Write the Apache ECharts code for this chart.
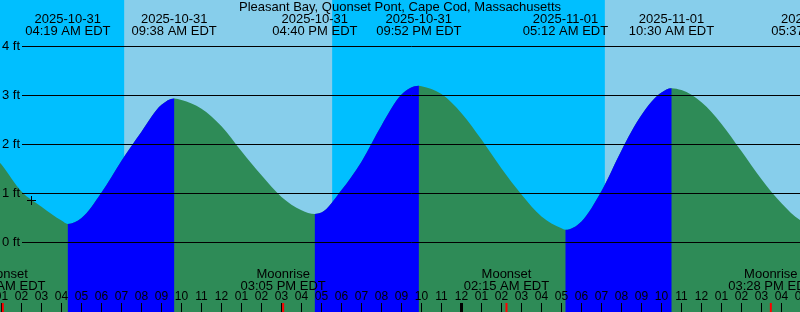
<!DOCTYPE html>
<html><head><meta charset="utf-8">
<script src="https://cdn.jsdelivr.net/npm/echarts@6/dist/echarts.min.js"></script>
<style>html,body{margin:0;padding:0;background:#00BFFF;}#c{width:800px;height:312px;}</style>
</head><body><div id="c"></div>
<script>
// ---------------- data ----------------
const chartTitle = 'Pleasant Bay, Quonset Pont, Cape Cod, Massachusetts';
const baseDate = '2025-10-31';
const timeZone = 'EDT';

const tideEventDates = ['2025-10-31','2025-10-31','2025-10-31','2025-10-31','2025-11-01','2025-11-01','2025-11-01'];
const tideEventTimes = ['04:19 AM','09:38 AM','04:40 PM','09:52 PM','05:12 AM','10:30 AM','05:37 PM'];
const tideEventTypes = ['L','H','L','H','L','H','L'];
const tideEventFeet  = [0.38, 2.94, 0.58, 3.20, 0.26, 3.15, 0.36];

const tideSampleHours = [0.9,1,2,3,4,5,6,7,8,9,10,11,12,13,14,15,16,17,18,19,20,21,22,23,24,25,26,27,28,29,30,31,32,33,34,35,36,37,38,39,40,41,42];
const tideSampleFeet  = [1.64,1.59,1.04,0.73,0.45,0.50,1.02,1.67,2.26,2.81,2.91,2.73,2.37,1.86,1.37,0.93,0.66,0.61,1.07,1.65,2.39,3.02,3.19,3.03,2.64,2.10,1.51,0.98,0.53,0.29,0.43,1.05,1.88,2.60,3.06,3.11,2.86,2.42,1.86,1.29,0.80,0.44,0.40];

const moonEventNames = ['Moonset','Moonrise','Moonset','Moonrise'];
const moonEventDates = ['2025-10-31','2025-10-31','2025-11-01','2025-11-01'];
const moonEventTimes = ['01:04 AM','03:05 PM','02:15 AM','03:28 PM'];

const sunriseDates = ['2025-10-31','2025-11-01'];
const sunriseTimes = ['07:08 AM','07:10 AM'];
const sunsetDates  = ['2025-10-31','2025-11-01'];
const sunsetTimes  = ['05:32 PM','05:31 PM'];

const feetTicks = [0, 1, 2, 3, 4];
const hourRange = [0, 42];
const midnightHours = [24];
const crossHours = [2.45];
const crossFeet  = [0.86];

// ---------------- layout / style ----------------
const W = 800, H = 312;
const PX_PER_HOUR = 20, HOUR0_X = -18.5;
const PX_PER_FT = 49, ZERO_Y = 242.5;
const FONT = 'Liberation Sans';
const FS = 13;
const C_NIGHT = '#00BFFF', C_DAY = '#87CEEB', C_RISE = '#0000FF', C_FALL = '#2E8B57';

function toHours(date, time) {
  const [hm, ap] = time.split(' ');
  let [h, m] = hm.split(':').map(Number);
  if (ap === 'PM' && h !== 12) h += 12;
  if (ap === 'AM' && h === 12) h = 0;
  const days = (Date.parse(date) - Date.parse(baseDate)) / 86400000;
  return days * 24 + h + m / 60;
}

const tideEventHours = tideEventTimes.map((t, i) => toHours(tideEventDates[i], t));
const moonEventHours = moonEventTimes.map((t, i) => toHours(moonEventDates[i], t));
const sunriseHours = sunriseTimes.map((t, i) => toHours(sunriseDates[i], t));
const sunsetHours = sunsetTimes.map((t, i) => toHours(sunsetDates[i], t));

const tideData = tideSampleHours.map((h, i) => [h, tideSampleFeet[i], 0])
  .concat(tideEventHours.map((h, i) => [h, tideEventFeet[i], 1]))
  .sort((a, b) => a[0] - b[0]);

// fill runs: whole curve (falling colour) + rising runs on top
const fillRuns = [[tideData[0][0], tideData[tideData.length - 1][0], 0]];
tideEventHours.forEach((h, i) => {
  if (tideEventTypes[i] === 'L') {
    const end = i + 1 < tideEventHours.length ? tideEventHours[i + 1] : tideData[tideData.length - 1][0];
    fillRuns.push([h, end, 1]);
  }
});

const dayAreas = sunriseHours.map((h, i) => [{ xAxis: h }, { xAxis: sunsetHours[i] }]);

const lineStartHour = (22 - HOUR0_X) / PX_PER_HOUR;
const gridLines = feetTicks.map(v => [
  { name: v + ' ft', coord: [lineStartHour, v] },
  { coord: [hourRange[1], v] }
]);

const yMin = -(H - ZERO_Y) / PX_PER_FT;
const yMax = ZERO_Y / PX_PER_FT;

const chart = echarts.init(document.getElementById('c'), null, { renderer: 'canvas' });

function txt(text, x, y, size) {
  return { type: 'text', style: { text, x, y, align: 'center', verticalAlign: 'middle',
    fontSize: size || FS, fontFamily: FONT, fill: '#000' } };
}

// cubic Hermite path through pixel points: flat tangents at tide extremes,
// three-point derivative elsewhere
function tidePath(api, a, b) {
  const pts = tideData.map(d => api.coord([d[0], d[1]]));
  const n = pts.length, hk = [], dk = [], m = [];
  for (let k = 0; k < n - 1; k++) {
    hk[k] = pts[k + 1][0] - pts[k][0];
    dk[k] = (pts[k + 1][1] - pts[k][1]) / hk[k];
  }
  m[0] = dk[0]; m[n - 1] = dk[n - 2];
  for (let k = 1; k < n - 1; k++) {
    if (tideData[k][2] === 1) m[k] = 0;
    else m[k] = (hk[k] * dk[k - 1] + hk[k - 1] * dk[k]) / (hk[k - 1] + hk[k]);
  }
  const eps = 1e-9;
  let i0 = -1, i1 = -1;
  for (let k = 0; k < n; k++) {
    if (tideData[k][0] >= a - eps && tideData[k][0] <= b + eps) { if (i0 < 0) i0 = k; i1 = k; }
  }
  const bottom = H + 5;
  let d = 'M' + pts[i0][0] + ',' + bottom + 'L' + pts[i0][0] + ',' + pts[i0][1];
  for (let k = i0; k < i1; k++) {
    const h = hk[k] / 3;
    d += 'C' + (pts[k][0] + h) + ',' + (pts[k][1] + m[k] * h) + ',' +
         (pts[k + 1][0] - h) + ',' + (pts[k + 1][1] - m[k + 1] * h) + ',' +
         pts[k + 1][0] + ',' + pts[k + 1][1];
  }
  d += 'L' + pts[i1][0] + ',' + bottom + 'Z';
  return d;
}

chart.setOption({
  animation: false,
  backgroundColor: C_NIGHT,
  title: { text: chartTitle, left: 'center', top: 1, padding: 0,
    textStyle: { fontSize: FS, fontWeight: 'normal', color: '#000', fontFamily: FONT, lineHeight: 13 } },
  grid: { left: HOUR0_X, width: (hourRange[1] - hourRange[0]) * PX_PER_HOUR, top: 0, height: H,
    containLabel: false, outerBoundsMode: 'none' },
  xAxis: {
    type: 'value', min: hourRange[0], max: hourRange[1], interval: 1, z: 10, position: 'bottom',
    axisLine: { show: false, onZero: false }, splitLine: { show: false },
    axisTick: { show: true, inside: true, length: 9, interval: 0, lineStyle: { color: '#000', width: 1 } },
    axisLabel: { show: true, inside: true, margin: 9, interval: 0, color: '#000', fontSize: 12, fontFamily: FONT,
      formatter: v => String(((Math.round(v) % 12) + 12) % 12 || 12).padStart(2, '0') }
  },
  yAxis: { type: 'value', min: yMin, max: yMax, show: false },
  series: [
    {
      // carrier for day bands and height grid lines
      type: 'line', data: tideData.map(d => [d[0], d[1]]), symbol: 'none', z: 1, silent: true,
      lineStyle: { opacity: 0, width: 0 },
      markArea: { silent: true, z: 1, itemStyle: { color: C_DAY, borderWidth: 0 }, data: dayAreas },
      markLine: { silent: true, z: 5, symbol: ['none', 'none'],
        lineStyle: { type: 'solid', color: '#000', width: 1, opacity: 1 },
        label: { show: true, position: 'start', distance: 2, formatter: '{b}', color: '#000', fontSize: FS, fontFamily: FONT },
        emphasis: { disabled: true },
        data: gridLines }
    },
    {
      type: 'custom', z: 2, silent: true,
      data: fillRuns,
      renderItem: (p, api) => ({
        type: 'path',
        shape: { pathData: tidePath(api, api.value(0), api.value(1)) },
        style: { fill: api.value(2) === 1 ? C_RISE : C_FALL }
      })
    },
    {
      type: 'custom', z: 12, silent: true,
      data: tideEventHours.map(h => [h]),
      renderItem: (p, api) => {
        const x = api.coord([api.value(0), 0])[0];
        const i = p.dataIndex;
        return { type: 'group', children: [
          txt(tideEventDates[i], x, 19.5),
          txt(tideEventTimes[i] + ' ' + timeZone, x, 31.5)
        ] };
      }
    },
    {
      type: 'custom', z: 12, silent: true,
      data: moonEventHours.map(h => [h]),
      renderItem: (p, api) => {
        const x = api.coord([api.value(0), 0])[0];
        const i = p.dataIndex;
        return { type: 'group', children: [
          txt(moonEventNames[i], x, 274),
          txt(moonEventTimes[i] + ' ' + timeZone, x, 286),
          { type: 'rect', shape: { x: x - 1, y: H - 9, width: 2, height: 9 }, style: { fill: '#FF0000' } }
        ] };
      }
    },
    {
      type: 'custom', z: 12, silent: true,
      data: midnightHours.map(h => [h]),
      renderItem: (p, api) => {
        const x = api.coord([api.value(0), 0])[0];
        return { type: 'rect', shape: { x: x - 1.5, y: H - 9, width: 3, height: 9 }, style: { fill: '#000' } };
      }
    },
    {
      type: 'custom', z: 12, silent: true,
      data: crossHours.map((h, i) => [h, crossFeet[i]]),
      renderItem: (p, api) => {
        const c = api.coord([api.value(0), api.value(1)]);
        const cx = Math.round(c[0]) + 0.5, cy = Math.round(c[1]) + 0.5;
        return { type: 'group', children: [
          { type: 'line', shape: { x1: cx - 4.5, y1: cy, x2: cx + 4.5, y2: cy }, style: { stroke: '#000', lineWidth: 1 } },
          { type: 'line', shape: { x1: cx, y1: cy - 4.5, x2: cx, y2: cy + 4.5 }, style: { stroke: '#000', lineWidth: 1 } }
        ] };
      }
    }
  ]
});
</script></body></html>
